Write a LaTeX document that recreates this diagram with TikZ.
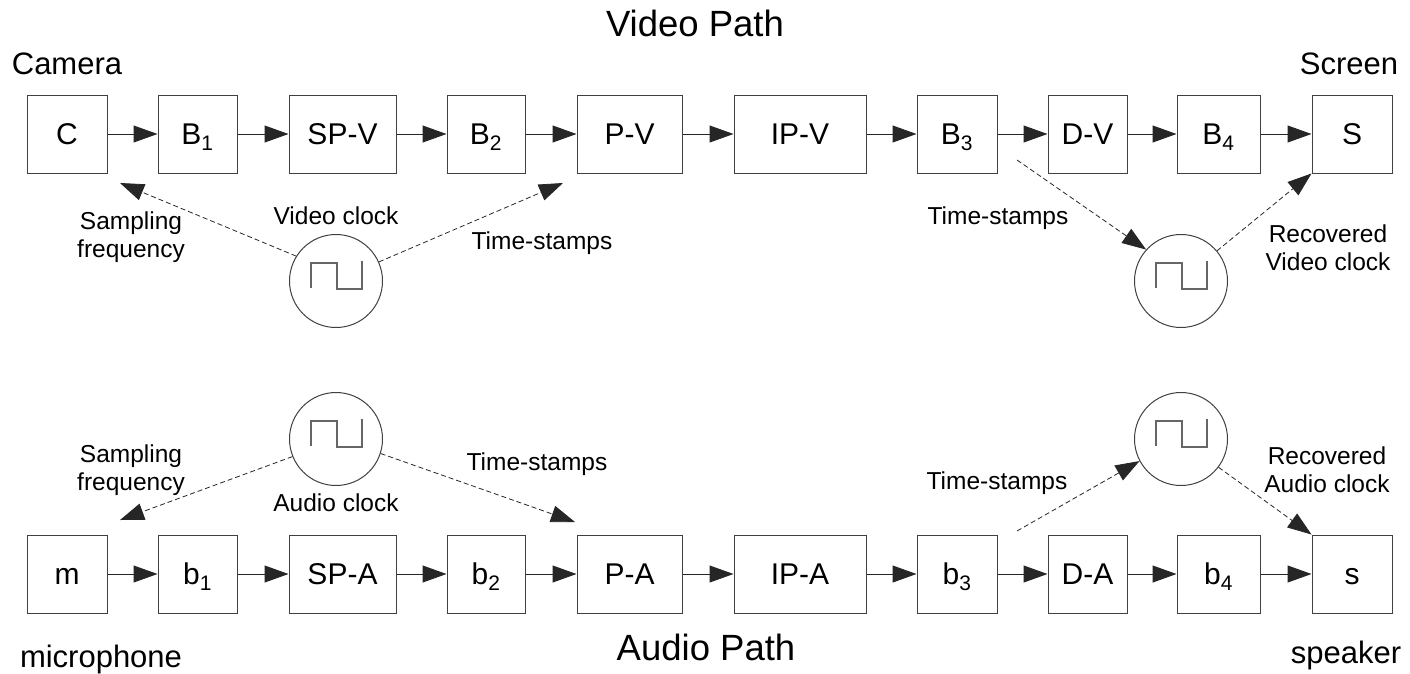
\documentclass[tikz,border=0pt]{standalone}
\usepackage{fontspec}
\setmainfont{Liberation Sans}
\usetikzlibrary{arrows.meta}
\begin{document}
\begin{tikzpicture}[x=1pt,y=-1pt,
  box/.style={draw=black!75, line width=1pt, minimum width=#1, minimum height=78pt, inner sep=0pt, text height=21.5pt, text depth=0pt, font=\fontsize{30}{36}\selectfont},
  flow/.style={-{Triangle[length=24pt,width=17pt]}, line width=1pt, draw=black!85},
  sync/.style={flow, dash pattern=on 5pt off 3pt, line width=0.8pt},
  clk/.style={circle, draw=black!75, line width=1pt, minimum size=93pt, inner sep=0pt},
  wave/.style={draw=black!60, line width=1.2pt},
  lbl/.style={anchor=base, inner sep=0pt, font=\fontsize{24.5}{29}\selectfont},
  side/.style={anchor=base, inner sep=0pt, font=\fontsize{31}{37}\selectfont},
  ttl/.style={anchor=base, inner sep=0pt, font=\fontsize{36.5}{44}\selectfont}]
\useasboundingbox (0,0) rectangle (1410,673);

% top row
\node[box=80pt]  (C)   at (67,134)     {C};
\node[box=79pt]  (B1)  at (197.5,134)  {B\textsubscript{1}};
\node[box=107pt] (SPV) at (342.5,134)  {SP-V};
\node[box=78pt]  (B2)  at (486,134)    {B\textsubscript{2}};
\node[box=105pt] (PV)  at (629.5,134)  {P-V};
\node[box=132pt] (IPV) at (800,134)    {IP-V};
\node[box=80pt]  (B3)  at (957,134)    {B\textsubscript{3}};
\node[box=79pt]  (DV)  at (1087.5,134) {D-V};
\node[box=83pt]  (B4)  at (1218.5,134) {B\textsubscript{4}};
\node[box=80pt]  (S)   at (1352,134)   {S};

% bottom row
\node[box=80pt]  (m)   at (67,574)     {m};
\node[box=79pt]  (b1)  at (197.5,574)  {b\textsubscript{1}};
\node[box=107pt] (SPA) at (342.5,574)  {SP-A};
\node[box=78pt]  (b2)  at (486,574)    {b\textsubscript{2}};
\node[box=105pt] (PA)  at (629.5,574)  {P-A};
\node[box=132pt] (IPA) at (800,574)    {IP-A};
\node[box=80pt]  (b3)  at (957,574)    {b\textsubscript{3}};
\node[box=79pt]  (DA)  at (1087.5,574) {D-A};
\node[box=83pt]  (b4)  at (1218.5,574) {b\textsubscript{4}};
\node[box=80pt]  (s)   at (1352,574)   {s};

\foreach \a/\b in {C/B1,B1/SPV,SPV/B2,B2/PV,PV/IPV,IPV/B3,B3/DV,DV/B4,B4/S,
                   m/b1,b1/SPA,SPA/b2,b2/PA,PA/IPA,IPA/b3,b3/DA,DA/b4,b4/s}
  \draw[flow] (\a) -- (\b);

% clocks
\node[clk] (vclk)  at (336,281)  {};
\node[clk] (rvclk) at (1181,281) {};
\node[clk] (aclk)  at (336,439)  {};
\node[clk] (raclk) at (1181,439) {};
\foreach \k in {vclk,rvclk,aclk,raclk}
  \draw[wave] ([shift={(-25,7)}]\k.center) -- ++(0,-25) -- ++(26,0) -- ++(0,26) -- ++(25,0) -- ++(0,-28);

% dashed connectors
\coordinate (vsf) at (120,183);
\coordinate (vts) at (563,183);
\coordinate (vts2) at (1017,160);
\coordinate (asf) at (120,520);
\coordinate (ats) at (575,522);
\coordinate (ats2) at (1017,531);
\draw[sync] (vclk.148) -- (vsf);
\draw[sync] (vclk.24) -- (vts);
\draw[sync] (vts2) -- (rvclk.138);
\draw[sync] (rvclk.40) -- (S.south west);
\draw[sync] (aclk.202) -- (asf);
\draw[sync] (aclk.-18) -- (ats);
\draw[sync] (ats2) -- (raclk.208);
\draw[sync] (raclk.-37) -- (s.north west);

% labels
\node[lbl] (vsf1) at (131,229.5) {Sampling};
\node[lbl] (vsf2) at (131,257.5) {frequency};
\node[lbl] (vcl)  at (336,224)   {Video clock};
\node[lbl] (vtsl) at (542,249.5) {Time-stamps};
\node[lbl] (rvtsl) at (998,224.5) {Time-stamps};
\node[lbl] (rv1)  at (1328,242.5) {Recovered};
\node[lbl] (rv2)  at (1328,270.5) {Video clock};
\node[lbl] (asf1) at (131,462.5) {Sampling};
\node[lbl] (asf2) at (131,490.5) {frequency};
\node[lbl] (acl)  at (336,511.5) {Audio clock};
\node[lbl] (atsl) at (537,470.5) {Time-stamps};
\node[lbl] (ratsl) at (997,489.5) {Time-stamps};
\node[lbl] (ra1)  at (1327,464.5) {Recovered};
\node[lbl] (ra2)  at (1327,492.5) {Audio clock};

\node[side] (cam) at (67,74)    {Camera};
\node[side] (scr) at (1349,74)  {Screen};
\node[side] (mic) at (101,667)  {microphone};
\node[side] (spk) at (1346,663) {speaker};
\node[ttl] (vp) at (695,36)  {Video Path};
\node[ttl] (ap) at (706,660) {Audio Path};
\end{tikzpicture}
\end{document}
